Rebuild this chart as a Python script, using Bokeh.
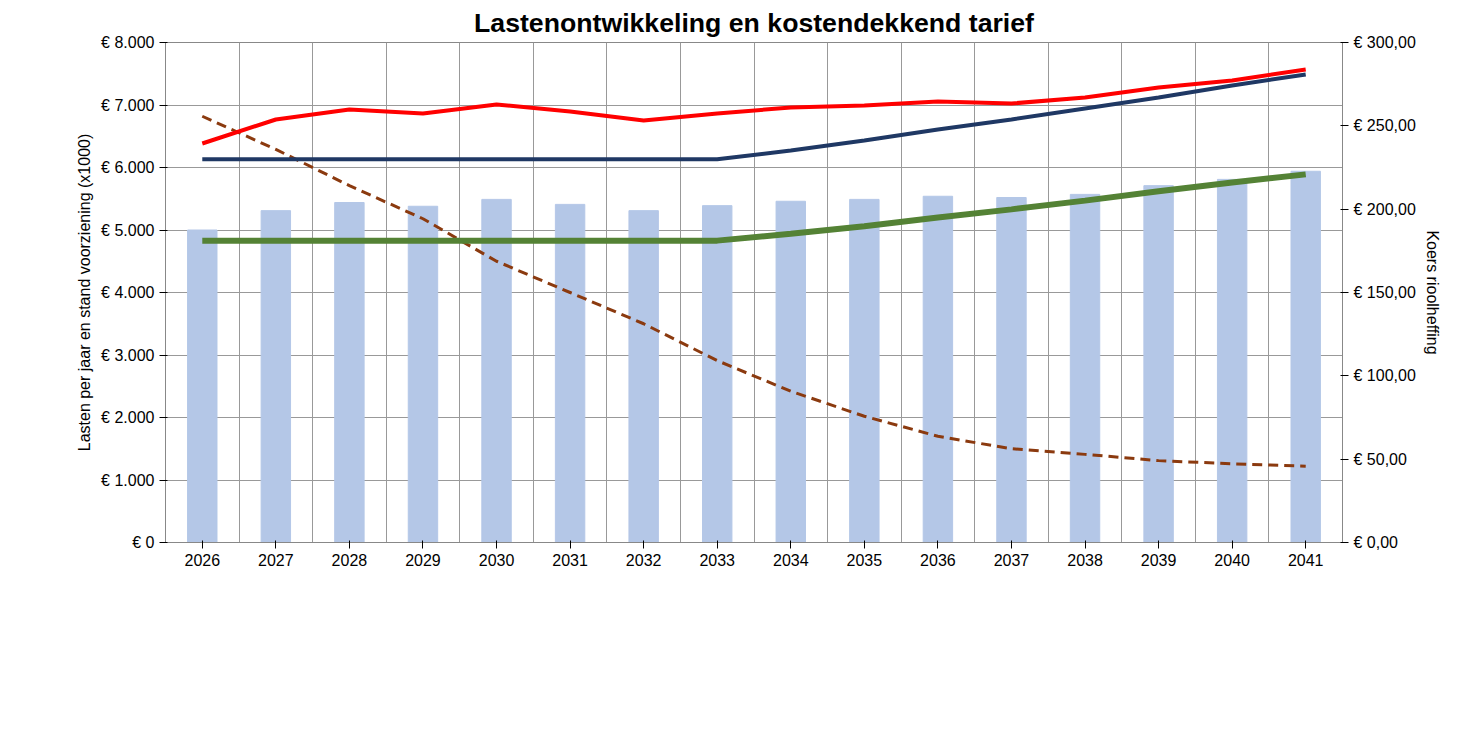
from bokeh.plotting import figure
from bokeh.models import Range1d, LinearAxis, FixedTicker, CustomJSTickFormatter, Legend, LegendItem
from bokeh.embed import file_html
from bokeh.resources import INLINE

years = list(range(2026, 2042))
totale_lasten = [5000, 5310, 5440, 5380, 5490, 5410, 5310, 5390, 5460, 5490, 5540, 5520, 5570, 5710, 5810, 5940]
verloop_voorziening = [6820, 6290, 5710, 5180, 4500, 4000, 3500, 2910, 2420, 2020, 1700, 1500, 1410, 1310, 1260, 1220]
inkomsten = [4830, 4830, 4830, 4830, 4830, 4830, 4830, 4830, 4940, 5060, 5200, 5330, 5470, 5620, 5760, 5890]
tarief_100 = [239.4, 253.8, 259.8, 257.4, 262.8, 258.6, 253.2, 257.4, 261.0, 262.2, 264.6, 263.4, 267.0, 273.0, 277.2, 283.8]
voorgesteld = [230, 230, 230, 230, 230, 230, 230, 230, 235.2, 241.2, 247.8, 253.8, 260.4, 267.0, 274.2, 280.8]

F = "Liberation Sans"
p = figure(frame_width=1177, frame_height=500, output_backend="svg", toolbar_location=None,
           x_range=Range1d(2025.5, 2041.5), y_range=Range1d(0, 8000),
           title="Lastenontwikkeling en kostendekkend tarief",
           outline_line_color="#888888", border_fill_color="white",
           min_border_left=165, min_border_right=125, min_border_top=20, min_border_bottom=10)
p.title.align = "center"
p.title.text_font = F
p.title.text_font_size = "20pt"
p.title.text_font_style = "bold"
p.title.text_color = "black"
p.extra_y_ranges = {"r": Range1d(0, 300)}

p.xaxis.ticker = FixedTicker(ticks=years)
p.xgrid.ticker = FixedTicker(ticks=[2025.5 + i for i in range(17)])
p.yaxis.ticker = FixedTicker(ticks=list(range(0, 8001, 1000)))
p.yaxis.formatter = CustomJSTickFormatter(code="return '€ ' + tick.toLocaleString('de-DE');")
p.yaxis.axis_label = "Lasten per jaar en stand voorziening (x1000)"
p.xgrid.grid_line_color = "#999999"
p.ygrid.grid_line_color = "#999999"

ra = LinearAxis(y_range_name="r", ticker=FixedTicker(ticks=list(range(0, 301, 50))),
                formatter=CustomJSTickFormatter(code="return '€ ' + tick.toFixed(2).replace('.', ',');"),
                axis_label="Koers rioolheffing")
p.add_layout(ra, "right")
for ax in [p.xaxis[0], p.yaxis[0], ra]:
    ax.major_label_text_font = F
    ax.major_label_text_font_size = "12pt"
    ax.major_label_text_color = "black"
    ax.axis_label_text_font = F
    ax.axis_label_text_font_size = "12pt"
    ax.axis_label_text_font_style = "normal"
    ax.axis_label_text_color = "black"
    ax.minor_tick_line_color = None
    ax.axis_line_color = "#888888"

b = p.vbar(x=years, top=totale_lasten, width=0.4, color="#b4c7e7")
d = p.line(years, verloop_voorziening, line_color="#8b3a0f", line_width=3, line_dash="10 6")
g = p.line(years, inkomsten, line_color="#548235", line_width=6)
r = p.line(years, tarief_100, line_color="#ff0000", line_width=4, y_range_name="r")
n = p.line(years, voorgesteld, line_color="#1f3864", line_width=4, y_range_name="r")

leg = Legend(items=[LegendItem(label="totale lasten", renderers=[b]),
                    LegendItem(label="inkomsten rioolheffing bij voorgesteld tarief", renderers=[g]),
                    LegendItem(label="voorgesteld tarief", renderers=[n]),
                    LegendItem(label="verloop voorziening", renderers=[d]),
                    LegendItem(label="tarief rioolheffing bij 100% kostendekkendheid", renderers=[r])],
             nrows=3, border_line_color=None, label_text_font=F, label_text_font_size="13pt",
             label_text_color="black", glyph_width=45, spacing=2, label_width=530,
             location=(100, 0), margin=5, padding=5)
p.add_layout(leg, "below")

open("out.html", "w").write(file_html(p, INLINE))
